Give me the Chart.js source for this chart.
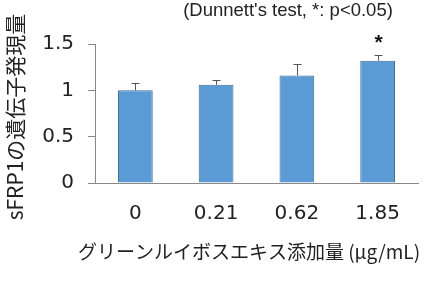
<!DOCTYPE html>
<html lang="ja">
<head>
  <meta charset="UTF-8">
  <title>sFRP1 expression</title>
  <style>
    html, body { margin: 0; padding: 0; background: #fff; }
    #wrap { width: 439px; height: 289px; }
  </style>
</head>
<body>
<div id="wrap"><canvas id="chart" width="439" height="289"></canvas></div>

<script src="https://cdn.jsdelivr.net/npm/chart.js"></script>
<script>
  // data
  const doses = ['0', '0.21', '0.62', '1.85'];
  const means = [1.00, 1.06, 1.16, 1.32];
  const errors = [0.08, 0.05, 0.12, 0.06];
  const marks = ['', '', '', '*'];

  const yTitle = 'sFRP1の遺伝子発現量';
  const xTitle = 'グリーンルイボスエキス添加量 (μg/mL)';
  const noteText = "(Dunnett's test, *: p<0.05)";

  const numFont = '"DejaVu Sans", sans-serif';
  const jpFont = '"Noto Sans CJK JP", sans-serif';

  // error bars, asterisks and the free texts
  const extras = {
    id: 'extras',
    afterDatasetsDraw(chart) {
      const ctx = chart.ctx;
      const x = chart.scales.x;
      const y = chart.scales.y;
      ctx.save();
      ctx.strokeStyle = '#555';
      ctx.lineWidth = 1;
      means.forEach((m, i) => {
        const cx = Math.round(x.getPixelForValue(i)) + 0.5;
        const top = y.getPixelForValue(m + errors[i]);
        const base = y.getPixelForValue(m);
        ctx.beginPath();
        ctx.moveTo(cx, base);
        ctx.lineTo(cx, top);
        ctx.moveTo(cx - 4, Math.round(top) + 0.5);
        ctx.lineTo(cx + 4, Math.round(top) + 0.5);
        ctx.stroke();
        if (marks[i]) {
          ctx.fillStyle = '#111';
          ctx.font = 'bold 21px "Liberation Sans", sans-serif';
          ctx.textAlign = 'center';
          ctx.textBaseline = 'middle';
          ctx.fillText(marks[i], cx, top - 12);
        }
      });

      ctx.fillStyle = '#222';
      ctx.textAlign = 'center';
      ctx.textBaseline = 'middle';
      ctx.font = '18.5px "Liberation Sans", sans-serif';
      ctx.fillText(noteText, 288, 11);

      ctx.font = '19px ' + jpFont;
      ctx.fillText(xTitle, 249, 252);

      ctx.font = '21px ' + jpFont;
      ctx.translate(15, 117);
      ctx.rotate(-Math.PI / 2);
      ctx.fillText(yTitle, 0, 0);
      ctx.restore();
    }
  };

  new Chart(document.getElementById('chart'), {
    type: 'bar',
    data: {
      labels: doses,
      datasets: [{
        data: means,
        backgroundColor: '#5B9BD5',
        borderColor: '#3E6E99',
        borderWidth: 1,
        barPercentage: 0.43,
        categoryPercentage: 1.0
      }]
    },
    options: {
      responsive: false,
      animation: false,
      layout: { padding: { top: 44, right: 21, left: 0, bottom: 0 } },
      plugins: {
        legend: { display: false },
        tooltip: { enabled: false }
      },
      scales: {
        x: {
          grid: { display: false },
          border: { display: true, color: '#888' },
          ticks: { color: '#222', padding: 11, font: { family: numFont, size: 20 } },
          afterFit(scale) { scale.height = 106; }
        },
        y: {
          min: 0,
          max: 1.5,
          ticks: {
            stepSize: 0.5, color: '#222', padding: 14,
            font: { family: numFont, size: 20 },
            callback: v => String(v)
          },
          grid: { drawOnChartArea: false, drawTicks: true, tickLength: 7, color: '#888' },
          border: { display: true, color: '#888' },
          afterFit(scale) { scale.width = 95; }
        }
      }
    },
    plugins: [extras]
  });
</script>
</body>
</html>
